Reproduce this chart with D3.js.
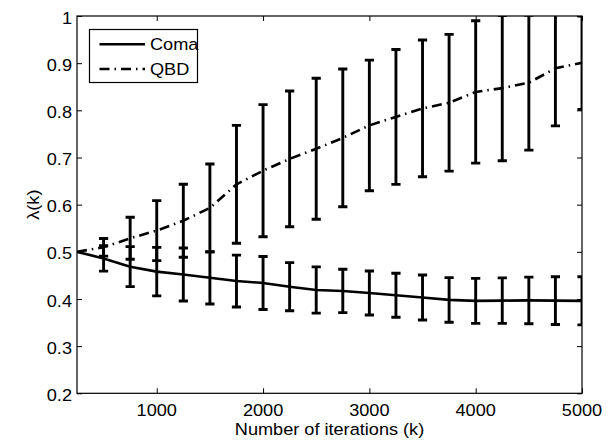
<!DOCTYPE html>
<html>
<head>
<meta charset="utf-8">
<script src="https://cdn.jsdelivr.net/npm/d3@7"></script>
<style>
  html, body { margin: 0; padding: 0; background: #fff; }
  svg { display: block; }
  text { font-family: "Liberation Sans", Arial, Helvetica, sans-serif; fill: #000; }
</style>
</head>
<body>
<svg id="chart" width="616" height="441"></svg>
<script>
// ---- data ----
const iterations = [250, 500, 750, 1000, 1250, 1500, 1750, 2000, 2250, 2500,
                    2750, 3000, 3250, 3500, 3750, 4000, 4250, 4500, 4750, 5000];
const comaMean = [0.500, 0.486, 0.4685, 0.458, 0.452, 0.445, 0.438, 0.434, 0.426, 0.419,
                  0.417, 0.4127, 0.408, 0.403, 0.398, 0.396, 0.3965, 0.397, 0.3965, 0.396];
const comaErr  = [0, 0.027, 0.0424, 0.0515, 0.0562, 0.0555, 0.055, 0.0562, 0.051, 0.049,
                  0.046, 0.0467, 0.0467, 0.0477, 0.0473, 0.0477, 0.0483, 0.0494, 0.0505, 0.051];
const qbdMean  = [0.500, 0.5095, 0.5287, 0.545, 0.566, 0.593, 0.643, 0.672, 0.697, 0.7185,
                  0.7415, 0.768, 0.786, 0.804, 0.816, 0.839, 0.847, 0.8586, 0.889, 0.901];
const qbdErr   = [0, 0.0187, 0.0445, 0.0636, 0.0774, 0.0933, 0.125, 0.140, 0.144, 0.1495,
                  0.146, 0.1385, 0.143, 0.145, 0.145, 0.151, 0.154, 0.143, 0.122, 0.099];
const xTicks = [1000, 2000, 3000, 4000, 5000];
const yTicks = [0.2, 0.3, 0.4, 0.5, 0.6, 0.7, 0.8, 0.9, 1.0];
const yTickLabels = ["0.2", "0.3", "0.4", "0.5", "0.6", "0.7", "0.8", "0.9", "1"];
const seriesNames = ["Coma", "QBD"];
const xTitle = "Number of iterations (k)";
const yTitle = "λ(k)";

// ---- layout ----
const L = 77, R = 582, T = 16, B = 393.3;
const FS = 16.5, SX = 1.1;
const svg = d3.select("#chart");
const x = d3.scaleLinear().domain([250, 5000]).range([L, R]);
const y = d3.scaleLinear().domain([0.2, 1.0]).range([B, T]);

function label(g, tx, ty, str, anchor, rot) {
  return g.append("text")
    .attr("transform", `translate(${tx},${ty})` + (rot ? ` rotate(${rot})` : "") + ` scale(${SX},1)`)
    .attr("text-anchor", anchor)
    .attr("font-size", FS)
    .text(str);
}

svg.append("defs").append("clipPath").attr("id", "clip")
  .append("rect").attr("x", L).attr("y", T).attr("width", R - L).attr("height", B - T);

// axes via d3 axis generators (ticks inward, on all sides)
const tickLen = 5;
const axB = svg.append("g").attr("transform", `translate(0,${B})`)
  .call(d3.axisBottom(x).tickValues(xTicks).tickSizeInner(-tickLen).tickSizeOuter(0).tickFormat(""));
const axT = svg.append("g").attr("transform", `translate(0,${T})`)
  .call(d3.axisTop(x).tickValues(xTicks).tickSizeInner(-tickLen).tickSizeOuter(0).tickFormat(""));
const axL = svg.append("g").attr("transform", `translate(${L},0)`)
  .call(d3.axisLeft(y).tickValues(yTicks).tickSizeInner(-tickLen).tickSizeOuter(0).tickFormat(""));
const axR = svg.append("g").attr("transform", `translate(${R},0)`)
  .call(d3.axisRight(y).tickValues(yTicks).tickSizeInner(-tickLen).tickSizeOuter(0).tickFormat(""));
[axB, axT, axL, axR].forEach(a => {
  a.select(".domain").remove();
  a.selectAll("line").attr("stroke", "#000").attr("stroke-width", 1);
});

// tick labels
const labels = svg.append("g");
xTicks.forEach(v => label(labels, x(v), 416, String(v), "middle"));
yTicks.forEach((v, i) => label(labels, 72, y(v) + 7.6, yTickLabels[i], "end"));
label(labels, (L + R) / 2, 435, xTitle, "middle");
label(labels, 39, (T + B) / 2, yTitle, "middle", -90);

// data marks
const plot = svg.append("g").attr("clip-path", "url(#clip)");
const line = d3.line().x(d => x(d.k)).y(d => y(d.m));
const capW = 4.6;

function drawSeries(means, errs, dash) {
  const pts = iterations.map((k, i) => ({ k, m: means[i], e: errs[i] }));
  plot.append("path").datum(pts)
    .attr("d", line).attr("fill", "none").attr("stroke", "#000")
    .attr("stroke-width", 2.6).attr("stroke-dasharray", dash);
  const bars = plot.append("g").selectAll("g").data(pts.filter(p => p.e > 0)).join("g")
    .attr("stroke", "#000").attr("stroke-width", 2.9);
  bars.append("line").attr("x1", d => x(d.k)).attr("x2", d => x(d.k))
    .attr("y1", d => y(d.m - d.e)).attr("y2", d => y(d.m + d.e));
  bars.append("line").attr("x1", d => x(d.k) - capW).attr("x2", d => x(d.k) + capW)
    .attr("y1", d => y(d.m + d.e)).attr("y2", d => y(d.m + d.e));
  bars.append("line").attr("x1", d => x(d.k) - capW).attr("x2", d => x(d.k) + capW)
    .attr("y1", d => y(d.m - d.e)).attr("y2", d => y(d.m - d.e));
}
drawSeries(comaMean, comaErr, null);
drawSeries(qbdMean, qbdErr, "10,5,1.5,5");

// frame
svg.append("rect").attr("x", L).attr("y", T).attr("width", R - L).attr("height", B - T)
  .attr("fill", "none").attr("stroke", "#000").attr("stroke-width", 1.2);

// legend
const lg = svg.append("g");
lg.append("rect").attr("x", 89.5).attr("y", 29.5).attr("width", 108).attr("height", 53)
  .attr("fill", "#fff").attr("stroke", "#000").attr("stroke-width", 1.2);
const dashes = [null, "10,5,1.5,5"];
seriesNames.forEach((name, i) => {
  const ly = 44.3 + i * 24.7;
  lg.append("line").attr("x1", 99.5).attr("x2", 145).attr("y1", ly).attr("y2", ly)
    .attr("stroke", "#000").attr("stroke-width", 2.6).attr("stroke-dasharray", dashes[i]);
  label(lg, 150, ly + 6, name, "start");
});
</script>
</body>
</html>
